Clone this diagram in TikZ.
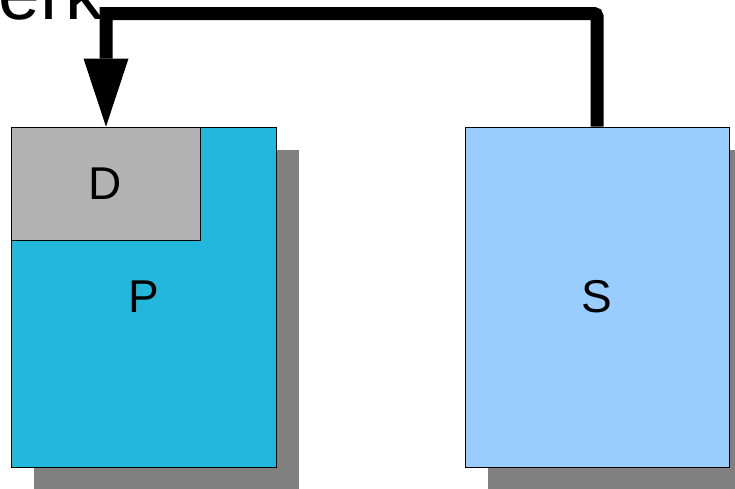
\documentclass[tikz,border=0pt]{standalone}
\usepackage{fontspec}
\setmainfont{Liberation Sans}
\usetikzlibrary{arrows.meta,shadows}
\definecolor{pcyan}{RGB}{35,183,220}
\definecolor{slight}{RGB}{153,204,255}
\definecolor{dgray}{RGB}{179,179,179}
\definecolor{shgray}{RGB}{128,128,128}
\tikzset{
  box/.style={draw=black, line width=0.8pt, inner sep=0pt, font=\fontsize{46}{50}\selectfont},
  shadowed/.style={general shadow={fill=shgray, shadow xshift=23pt, shadow yshift=-23pt}},
  conn/.style={line width=13pt, -{Triangle[length=68pt,width=45pt,line width=0pt]}}
}
\begin{document}
\begin{tikzpicture}[x=1pt,y=-1pt]
\useasboundingbox (0,0) rectangle (735,488);
\node[anchor=base east, inner sep=0pt, font=\fontsize{75}{80}\selectfont] (title) at (103,19) {erk};
\node[box, shadowed, fill=pcyan, minimum width=265pt, minimum height=340pt] (p) at (143.5,297) {P};
\node[box, fill=dgray, minimum width=189pt, minimum height=113pt] (d) at (105.5,183.5) {D};
\node[box, shadowed, fill=slight, minimum width=264pt, minimum height=340pt] (s) at (597,297) {S};
\coordinate (c2) at (106,13.5);
\draw[conn, rounded corners=3pt] (s.north) -- (s.north |- c2) [sharp corners] -- (c2) -- (c2 |- d.north);
\end{tikzpicture}
\end{document}
